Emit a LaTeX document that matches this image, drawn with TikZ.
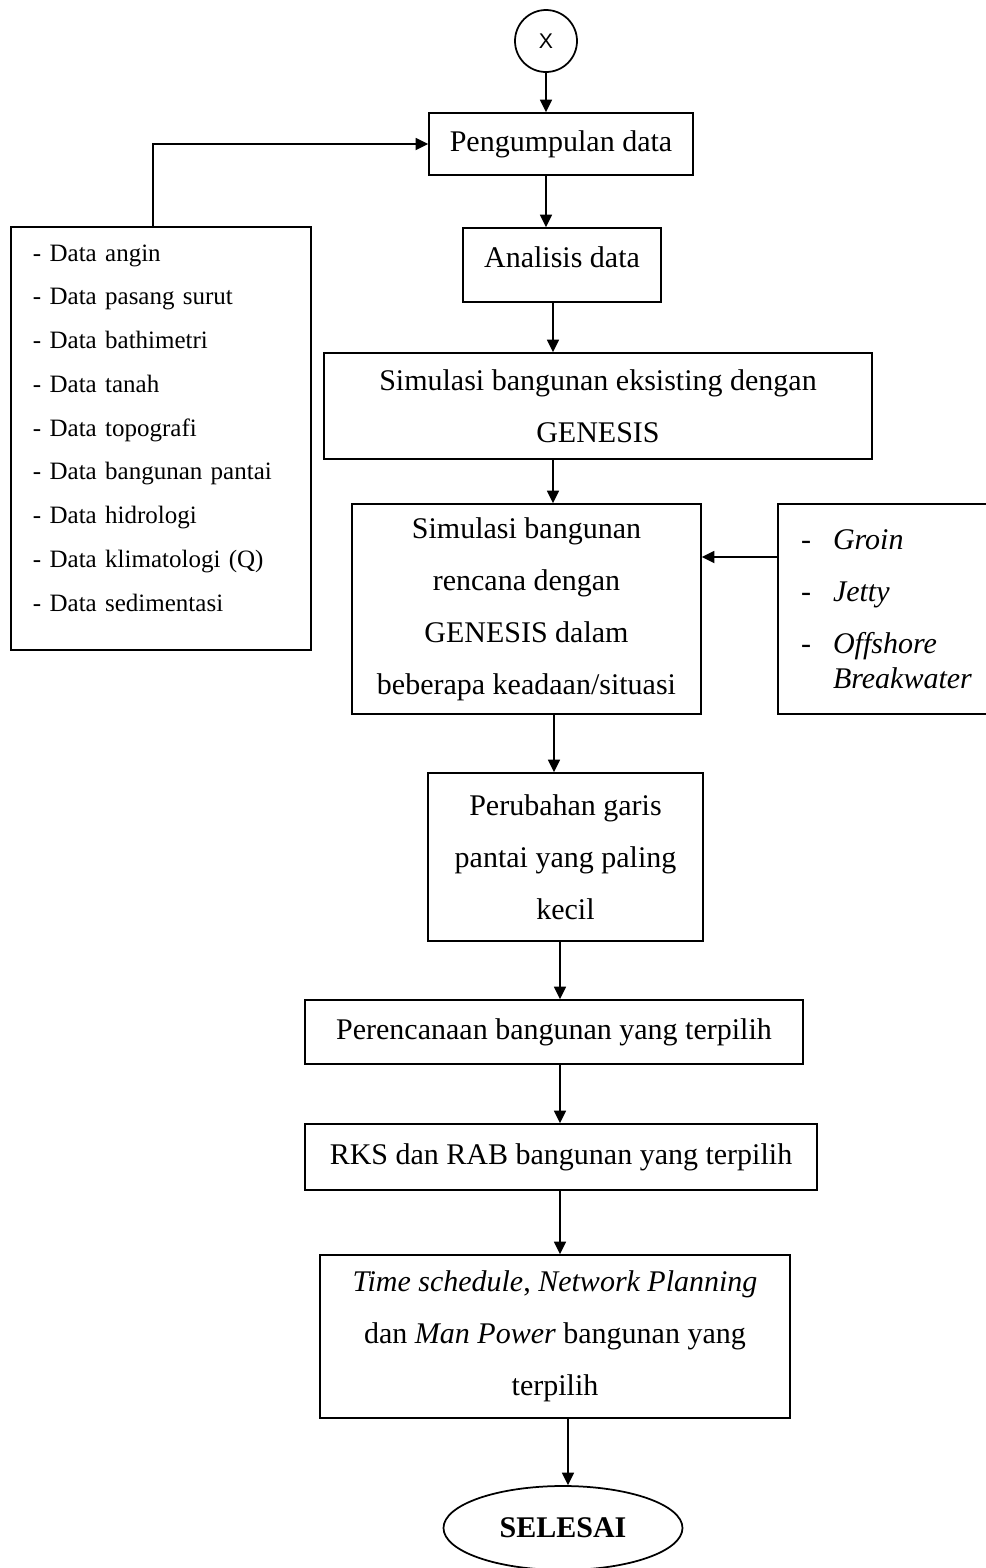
\documentclass[tikz,border=0pt]{standalone}
\usepackage{fontspec}
\setmainfont{Liberation Serif}
\newfontfamily\sansx{Liberation Sans}
\usetikzlibrary{arrows.meta, shapes.geometric}

\begin{document}
\begin{tikzpicture}[x=0.4pt, y=-0.4pt, line width=0.7pt,
    box/.style={shape=rectangle, draw, inner sep=0pt, align=center,
        font=\fontsize{12}{20.8}\selectfont},
    arr/.style={-{Triangle[length=5pt, width=4.8pt]}}]
    \useasboundingbox (0, 0) rectangle (986, 1568);

    % main column
    \node [shape=circle, draw, minimum size=24.8pt, inner sep=0pt,
        font=\sansx\fontsize{8.5}{10}\selectfont] (x) at (546, 41) {X};
    \node [box, minimum width=105.6pt, minimum height=24.8pt] (peng) at (561, 144)
        {Pengumpulan data};
    \node [box, minimum width=79.2pt, minimum height=29.6pt, text depth=6.4pt] (anal) at (562, 265)
        {Analisis data};
    \node [box, minimum width=219.2pt, minimum height=42.4pt] (eks) at (598, 406)
        {Simulasi bangunan eksisting dengan\\ GENESIS};
    \node [box, minimum width=139.6pt, minimum height=84pt] (renc) at (526.5, 609)
        {Simulasi bangunan\\ rencana dengan\\ GENESIS dalam\\ beberapa keadaan/situasi};
    \node [box, minimum width=110pt, minimum height=67.2pt] (ubah) at (565.5, 857)
        {Perubahan garis\\ pantai yang paling\\ kecil};
    \node [box, minimum width=199.2pt, minimum height=25.6pt] (pere) at (554, 1032)
        {Perencanaan bangunan yang terpilih};
    \node [box, minimum width=204.8pt, minimum height=26.4pt] (rks) at (561, 1157)
        {RKS dan RAB bangunan yang terpilih};
    \node [box, minimum width=188pt, minimum height=65.2pt] (time) at (555, 1336.5)
        {\textit{Time schedule}, \textit{Network Planning}\\
         dan \textit{Man Power} bangunan yang\\ terpilih};
    \node [shape=ellipse, draw, minimum width=95.6pt, minimum height=33.6pt, inner sep=0pt,
        font=\fontsize{12}{14}\selectfont\bfseries] (sel) at (563, 1528) {SELESAI};

    % side boxes
    \node [shape=rectangle, draw, text width=102.4pt, inner xsep=8.8pt, inner ysep=0pt,
        text height=13.6pt, text depth=155.6pt, align=left,
        font=\fontsize{10}{17.5}\selectfont] (data) at (161, 438.5)
        {- Data angin\\ - Data pasang surut\\ - Data bathimetri\\ - Data tanah\\
         - Data topografi\\ - Data bangunan pantai\\ - Data hidrologi\\
         - Data klimatologi (Q)\\ - Data sedimentasi};
    \node [shape=rectangle, draw, text width=68.4pt, inner xsep=9.2pt, inner ysep=0pt,
        minimum height=84pt, align=left,
        font=\fontsize{12}{14}\selectfont] (alt) at (886.5, 609)
        {\makebox[12.8pt][l]{-}\textit{Groin}\\[6.8pt]
         \makebox[12.8pt][l]{-}\textit{Jetty}\\[6.8pt]
         \makebox[12.8pt][l]{-}\textit{Offshore}\\
         \hspace*{12.8pt}\textit{Breakwater}};

    \coordinate (s1) at (553, 0);
    \coordinate (s2) at (554, 0);
    \coordinate (s3) at (560, 0);
    \coordinate (s4) at (568, 0);
    \coordinate (s5) at (0, 557);

    % connectors
    \draw [arr] (x) -- (x |- peng.north);
    \draw [arr] (x |- peng.south) -- (x |- anal.north);
    \draw [arr] (anal.south -| s1) -- (eks.north -| s1);
    \draw [arr] (eks.south -| s1) -- (renc.north -| s1);
    \draw [arr] (alt.west |- s5) -- (renc.east |- s5);
    \draw [arr] (renc.south -| s2) -- (ubah.north -| s2);
    \draw [arr] (ubah.south -| s3) -- (pere.north -| s3);
    \draw [arr] (pere.south -| s3) -- (rks.north -| s3);
    \draw [arr] (rks.south -| s3) -- (time.north -| s3);
    \draw [arr] (time.south -| s4) -- (sel.north -| s4);
    \draw [arr] ([xshift=-3.2pt]data.north) |- (peng.west);
\end{tikzpicture}
\end{document}
